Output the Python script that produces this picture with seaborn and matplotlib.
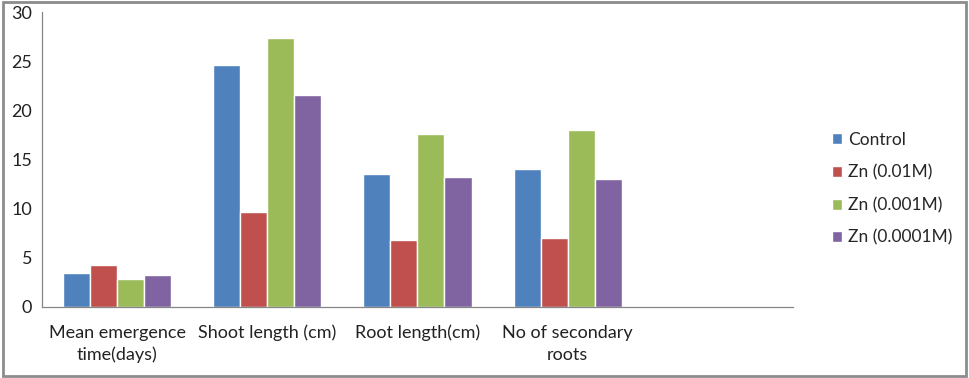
import pandas as pd
import seaborn as sns
import matplotlib.pyplot as plt
from matplotlib.patches import Rectangle

# Zn treatment effect on seedlings
categories = ['Mean emergence\ntime(days)', 'Shoot length (cm)', 'Root length(cm)',
              'No of secondary\nroots', ' ']
treatments = ['Control', 'Zn (0.01M)', 'Zn (0.001M)', 'Zn (0.0001M)']
control = [3.45, 24.65, 13.5, 14.0]
zn_001 = [4.25, 9.65, 6.75, 7.0]
zn_0001 = [2.85, 27.4, 17.55, 18.0]
zn_00001 = [3.2, 21.6, 13.25, 13.05]
colors = ['#4F81BD', '#C0504D', '#9BBB59', '#8064A2']

rows = []
for trt, vals in zip(treatments, [control, zn_001, zn_0001, zn_00001]):
    for cat, v in zip(categories[:4], vals):
        rows.append({'Parameter': cat, 'Treatment': trt, 'Value': v})
df = pd.DataFrame(rows)

sns.set_style('white')
plt.rcParams['font.family'] = ['Lato', 'DejaVu Sans']

fig = plt.figure(figsize=(9.69, 3.78), dpi=100)
ax = fig.add_axes([0.0433, 0.1886, 0.775, 0.7789])
sns.barplot(data=df, x='Parameter', y='Value', hue='Treatment', order=categories,
            hue_order=treatments, palette=colors, width=0.72, saturation=1,
            gap=0, ax=ax, legend=True)

ax.set_xlim(-0.5, 4.5)
ax.set_ylim(0, 30)
ax.set_yticks(range(0, 31, 5))
ax.set_xlabel('')
ax.set_ylabel('')
ax.set_xticks(range(5))
ax.set_xticklabels(categories, fontsize=13, color='#222222', linespacing=1.45)
ax.set_xticks([i - 0.5 for i in range(6)], minor=True)
ax.tick_params(axis='x', which='major', length=0, pad=13)
ax.tick_params(axis='x', which='minor', length=4, width=0.8, color='#868686', direction='out')
ax.tick_params(axis='y', length=4, width=0.8, color='#868686', direction='out',
               labelsize=13, labelcolor='#222222', pad=3)
for s in ['top', 'right']:
    ax.spines[s].set_visible(False)
for s in ['left', 'bottom']:
    ax.spines[s].set_color('#868686')
    ax.spines[s].set_linewidth(0.9)

ax.legend(loc='center left', bbox_to_anchor=(0.842, 0.50), bbox_transform=fig.transFigure,
          frameon=False, fontsize=12.5, handlelength=0.6, handleheight=0.6,
          handletextpad=0.35, labelspacing=0.95)

fig.patches.append(Rectangle((0.003, 0.006), 0.994, 0.988, transform=fig.transFigure,
                             fill=False, edgecolor='#8c8c8c', linewidth=2))

fig.savefig('out.png', dpi=100)
